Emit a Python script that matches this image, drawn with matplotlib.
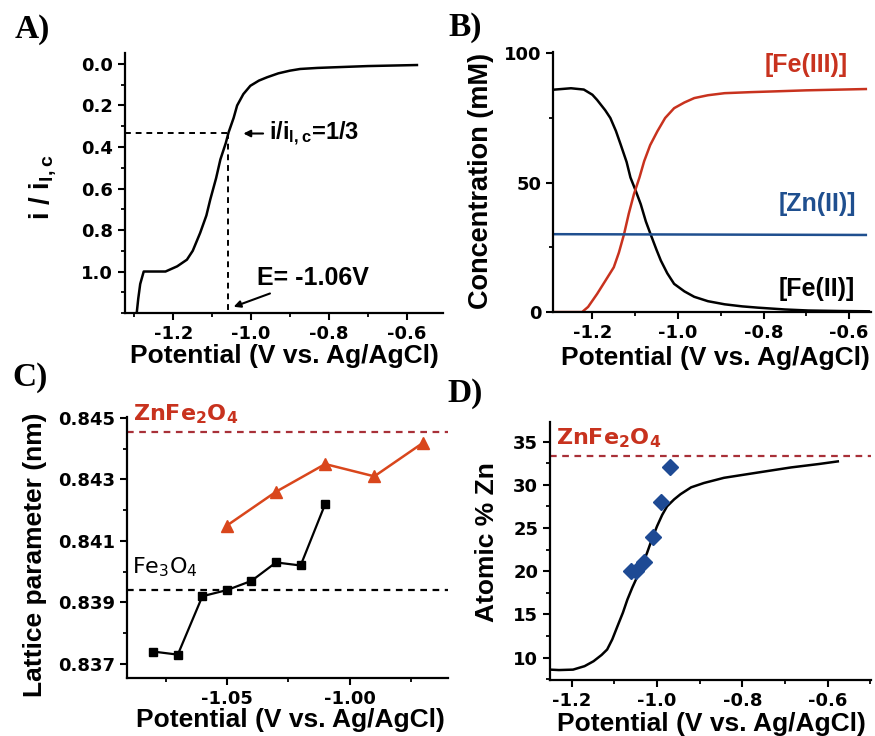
import matplotlib
matplotlib.use("Agg")
import matplotlib.pyplot as plt
from matplotlib.ticker import MultipleLocator

plt.rcParams['font.family'] = ['Liberation Sans', 'DejaVu Sans']
plt.rcParams['font.weight'] = 'bold'
plt.rcParams['axes.labelweight'] = 'bold'
plt.rcParams['axes.unicode_minus'] = False
plt.rcParams['mathtext.default'] = 'regular'

# ---- panel A: normalised current vs potential
a_pot = [-1.294, -1.290, -1.285, -1.276, -1.26, -1.24, -1.22, -1.208, -1.19, -1.165, -1.15,
         -1.131, -1.115, -1.105, -1.09, -1.079, -1.065, -1.058, -1.045, -1.036, -1.02, -1.002,
         -0.98, -0.959, -0.93, -0.9, -0.874, -0.83, -0.788, -0.7, -0.574]
a_cur = [1.20, 1.13, 1.06, 1.0, 1.0, 1.0, 1.0, 0.99, 0.975, 0.943, 0.90,
         0.814, 0.73, 0.653, 0.55, 0.46, 0.38, 0.33, 0.26, 0.20, 0.145, 0.105,
         0.08, 0.064, 0.045, 0.032, 0.024, 0.019, 0.016, 0.01, 0.005]
a_e_third = -1.06
a_i_third = 1 / 3

# ---- panel B: concentrations
fe2_pot = [-1.287, -1.25, -1.22, -1.2, -1.189, -1.17, -1.158, -1.145, -1.134, -1.12, -1.111,
           -1.099, -1.087, -1.075, -1.064, -1.05, -1.04, -1.025, -1.009, -0.985, -0.962,
           -0.93, -0.891, -0.85, -0.813, -0.75, -0.695, -0.62, -0.554]
fe2_conc = [86, 86.5, 86, 84, 82, 78, 75, 70, 64.8, 58, 52,
            47, 41.7, 35, 30.1, 24, 19.9, 15, 10.9, 8, 5.9,
            4.2, 3, 2.2, 1.7, 1.0, 0.6, 0.4, 0.3]
fe3_pot = [-1.287, -1.25, -1.224, -1.21, -1.189, -1.17, -1.15, -1.138, -1.126, -1.115, -1.103,
           -1.09, -1.079, -1.065, -1.048, -1.03, -1.009, -0.985, -0.962, -0.93, -0.891,
           -0.83, -0.773, -0.7, -0.561]
fe3_conc = [0, 0, 0, 2, 7, 12, 17.3, 23, 30.1, 38, 45.5,
            52, 58.3, 64.5, 69.9, 75, 78.8, 81, 82.7, 83.8, 84.6,
            85, 85.3, 85.7, 86.2]
zn_pot = [-1.287, -0.561]
zn_conc = [30.1, 29.8]

# ---- panel C: lattice parameter
fe3o4_pot = [-1.08, -1.07, -1.06, -1.05, -1.04, -1.03, -1.02, -1.01]
fe3o4_lat = [0.8374, 0.8373, 0.8392, 0.8394, 0.8397, 0.8403, 0.8402, 0.8422]
znfe_pot = [-1.05, -1.03, -1.01, -0.99, -0.97]
znfe_lat = [0.8415, 0.8426, 0.8435, 0.8431, 0.8442]
lat_fe3o4_ref = 0.8394
lat_znfe2o4_ref = 0.84455

# ---- panel D: atomic % Zn
d_pot = [-1.251, -1.23, -1.197, -1.17, -1.149, -1.13, -1.117, -1.105, -1.093, -1.08, -1.0696,
         -1.058, -1.046, -1.035, -1.0235, -1.012, -1.0, -0.988, -0.9765, -0.96, -0.945, -0.92,
         -0.89, -0.843, -0.765, -0.686, -0.62, -0.576]
d_zn = [8.6, 8.55, 8.6, 9.0, 9.57, 10.3, 10.93, 12.1, 13.6, 15.2, 16.7,
        18.1, 19.4, 20.7, 22.1, 23.7, 25.2, 26.5, 27.5, 28.3, 28.9, 29.7,
        30.2, 30.8, 31.4, 32.0, 32.4, 32.7]
edx_pot = [-1.06, -1.05, -1.03, -1.01, -0.99, -0.97]
edx_zn = [20, 20, 21, 24, 28, 32]
zn_znfe2o4 = 33.3

red = '#c8321e'
tri_red = '#d9461c'
dash_red = '#a83038'
blue = '#1f4f8f'
xlab = 'Potential (V vs. Ag/AgCl)'


def style(ax):
    for s in ['top', 'right']:
        ax.spines[s].set_visible(False)
    for s in ['left', 'bottom']:
        ax.spines[s].set_linewidth(1.6)
    ax.tick_params(which='major', direction='out', length=5, width=1.5, labelsize=13)
    ax.tick_params(which='minor', direction='out', length=3, width=1.3)
    for lab in ax.get_xticklabels() + ax.get_yticklabels():
        lab.set_family('DejaVu Sans')
        lab.set_fontweight('bold')


def main():
    fig = plt.figure(figsize=(8.75, 7.36), dpi=100)

    # A
    ax1 = fig.add_axes([0.1429, 0.5747, 0.3634, 0.3533])
    ax1.plot(a_pot, a_cur, color='black', lw=1.8)
    ax1.set_xlim(-1.324, -0.507)
    ax1.set_ylim(1.2, -0.053)
    ax1.plot([-1.324, a_e_third], [a_i_third, a_i_third], color='black', lw=1.4, ls=(0, (3, 2.5)))
    ax1.plot([a_e_third, a_e_third], [a_i_third, 1.2], color='black', lw=1.4, ls=(0, (3, 2.5)))
    ax1.xaxis.set_major_locator(MultipleLocator(0.2))
    ax1.xaxis.set_minor_locator(MultipleLocator(0.1))
    ax1.set_yticks([0.0, 0.2, 0.4, 0.6, 0.8, 1.0])
    ax1.yaxis.set_minor_locator(MultipleLocator(0.1))
    ax1.annotate('i/i$_{l,c}$=1/3', xy=(-1.02, 0.335), xytext=(-0.955, 0.335), fontsize=17,
                 ha='left', va='center',
                 arrowprops=dict(arrowstyle='-|>', color='black', lw=1.5, mutation_scale=10, shrinkA=2, shrinkB=0))
    ax1.annotate('E= -1.06V', xy=(-1.045, 1.17), xytext=(-0.985, 1.03), fontsize=18,
                 ha='left', va='center',
                 arrowprops=dict(arrowstyle='-|>', color='black', lw=1.5, mutation_scale=10, shrinkA=2, shrinkB=0))
    ax1.set_xlabel(xlab, fontsize=19)
    ax1.set_ylabel('i / i$_{l,c}$', fontsize=20)
    style(ax1)
    ax1.xaxis.set_label_coords(0.5, -0.12)
    ax1.yaxis.set_label_coords(-0.21, 0.485)

    # B
    ax2 = fig.add_axes([0.632, 0.576, 0.3634, 0.3533])
    ax2.plot(fe2_pot, fe2_conc, color='black', lw=1.8)
    ax2.plot(fe3_pot, fe3_conc, color=red, lw=1.8)
    ax2.plot(zn_pot, zn_conc, color=blue, lw=1.8)
    ax2.set_xlim(-1.292, -0.549)
    ax2.set_ylim(0, 100.5)
    ax2.set_yticks([0, 50, 100])
    ax2.yaxis.set_minor_locator(MultipleLocator(25))
    ax2.xaxis.set_major_locator(MultipleLocator(0.2))
    ax2.xaxis.set_minor_locator(MultipleLocator(0.1))
    ax2.text(-0.70, 95.5, '[Fe(III)]', color=red, fontsize=18, ha='center', va='center')
    ax2.text(-0.675, 41.8, '[Zn(II)]', color=blue, fontsize=18, ha='center', va='center')
    ax2.text(-0.675, 9, '[Fe(II)]', color='black', fontsize=18, ha='center', va='center')
    ax2.set_xlabel(xlab, fontsize=19)
    ax2.set_ylabel('Concentration (mM)', fontsize=19.5)
    style(ax2)
    ax2.xaxis.set_label_coords(0.511, -0.13)
    ax2.yaxis.set_label_coords(-0.185, 0.504)

    # C
    ax3 = fig.add_axes([0.1451, 0.0788, 0.3669, 0.3546])
    ax3.axhline(lat_znfe2o4_ref, color=dash_red, lw=1.6, ls=(0, (3, 2.5)))
    ax3.axhline(lat_fe3o4_ref, color='black', lw=1.6, ls=(0, (3, 2.5)))
    ax3.plot(fe3o4_pot, fe3o4_lat, color='black', lw=1.6, marker='s', ms=6)
    ax3.plot(znfe_pot, znfe_lat, color=tri_red, lw=1.8, marker='^', ms=9)
    ax3.set_xlim(-1.0907, -0.960)
    ax3.set_ylim(0.83654, 0.84503)
    ax3.set_xticks([-1.05, -1.00])
    ax3.set_xticklabels(['-1.05', '-1.00'])
    ax3.xaxis.set_minor_locator(MultipleLocator(0.025))
    ax3.set_yticks([0.837, 0.839, 0.841, 0.843, 0.845])
    ax3.set_yticklabels(['0.837', '0.839', '0.841', '0.843', '0.845'])
    ax3.yaxis.set_minor_locator(MultipleLocator(0.001))
    ax3.text(0.02, 1.01, 'ZnFe$_2$O$_4$', color=red, fontsize=16, transform=ax3.transAxes,
             ha='left', va='center', family='DejaVu Sans')
    ax3.text(0.015, 0.426, 'Fe$_3$O$_4$', color='black', fontsize=16, transform=ax3.transAxes,
             ha='left', va='center', family='DejaVu Sans', fontweight='normal')
    ax3.set_xlabel(xlab, fontsize=19)
    ax3.set_ylabel('Lattice parameter (nm)', fontsize=19)
    style(ax3)
    ax3.xaxis.set_label_coords(0.508, -0.115)
    ax3.yaxis.set_label_coords(-0.25, 0.471)

    # D
    ax4 = fig.add_axes([0.6286, 0.0761, 0.3669, 0.351])
    ax4.axhline(zn_znfe2o4, color=dash_red, lw=1.6, ls=(0, (3, 2.5)))
    ax4.plot(d_pot, d_zn, color='black', lw=1.8)
    ax4.plot(edx_pot, edx_zn, ls='none', marker='D', ms=8, color='#1e4a94')
    ax4.set_xlim(-1.251, -0.498)
    ax4.set_ylim(7.4, 37.3)
    ax4.xaxis.set_major_locator(MultipleLocator(0.2))
    ax4.xaxis.set_minor_locator(MultipleLocator(0.1))
    ax4.set_yticks([10, 15, 20, 25, 30, 35])
    ax4.yaxis.set_minor_locator(MultipleLocator(2.5))
    ax4.text(0.02, 0.937, 'ZnFe$_2$O$_4$', color=red, fontsize=16, transform=ax4.transAxes,
             ha='left', va='center', family='DejaVu Sans')
    ax4.set_xlabel(xlab, fontsize=19)
    ax4.set_ylabel('Atomic % Zn', fontsize=19)
    style(ax4)
    ax4.xaxis.set_label_coords(0.503, -0.125)
    ax4.yaxis.set_label_coords(-0.16, 0.535)

    # panel letters
    for x, y, s in [(0.017, 0.981, 'A)'), (0.512, 0.984, 'B)'), (0.014, 0.508, 'C)'), (0.511, 0.486, 'D)')]:
        fig.text(x, y, s, fontsize=24, family='Liberation Serif', fontweight='bold', va='top', ha='left')

    fig.savefig('out.png', dpi=100)


if __name__ == '__main__':
    main()
